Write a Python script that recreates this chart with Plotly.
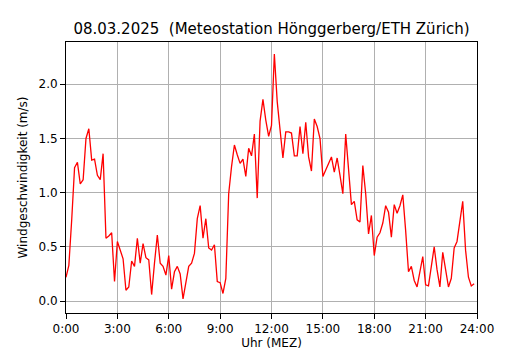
import plotly.graph_objects as go

# Wind speed (m/s), 10-minute values from 0:00 to 23:50
wind = [
    0.22, 0.33, 0.75, 1.23, 1.28, 1.08, 1.12, 1.50, 1.59, 1.30,
    1.31, 1.16, 1.12, 1.36, 0.58, 0.60, 0.63, 0.18, 0.55, 0.47,
    0.39, 0.10, 0.13, 0.37, 0.32, 0.58, 0.35, 0.53, 0.40, 0.38,
    0.06, 0.35, 0.61, 0.35, 0.32, 0.24, 0.42, 0.11, 0.27, 0.32,
    0.25, 0.02, 0.19, 0.32, 0.35, 0.44, 0.76, 0.88, 0.58, 0.76,
    0.49, 0.47, 0.52, 0.18, 0.17, 0.07, 0.21, 0.99, 1.24, 1.44,
    1.35, 1.27, 1.31, 1.15, 1.41, 1.34, 1.54, 0.95, 1.66, 1.86,
    1.67, 1.52, 1.62, 2.28, 1.84, 1.58, 1.32, 1.56, 1.56, 1.55,
    1.34, 1.34, 1.61, 1.36, 1.65, 1.33, 1.20, 1.68, 1.61, 1.50,
    1.15, 1.21, 1.27, 1.33, 1.19, 1.32, 1.16, 0.99, 1.54, 1.21,
    0.89, 0.92, 0.75, 0.73, 1.25, 0.99, 0.62, 0.79, 0.42, 0.59,
    0.63, 0.72, 0.88, 0.82, 0.59, 0.89, 0.81, 0.88, 0.98, 0.65,
    0.27, 0.32, 0.19, 0.13, 0.29, 0.41, 0.15, 0.14, 0.32, 0.50,
    0.29, 0.13, 0.45, 0.29, 0.13, 0.21, 0.49, 0.55, 0.72, 0.92,
    0.47, 0.22, 0.14, 0.16,
]
hours = [i / 6 for i in range(len(wind))]

x_tickvals = [0, 3, 6, 9, 12, 15, 18, 21, 24]
x_ticktext = ["0:00", "3:00", "6:00", "9:00", "12:00", "15:00", "18:00", "21:00", "24:00"]
y_tickvals = [0.0, 0.5, 1.0, 1.5, 2.0]
y_ticktext = ["0.0", "0.5", "1.0", "1.5", "2.0"]

title_text = "08.03.2025  (Meteostation Hönggerberg/ETH Zürich)"
x_title = "Uhr (MEZ)"
y_title = "Windgeschwindigkeit (m/s)"

fig = go.Figure()
fig.add_trace(go.Scatter(x=hours, y=wind, mode="lines",
                         line=dict(color="#ff0000", width=1.3), showlegend=False))

axis_common = dict(
    showline=True, linecolor="black", linewidth=1, mirror=True,
    showgrid=True, gridcolor="#b0b0b0", gridwidth=0.8,
    ticks="outside", ticklen=5, tickcolor="black", tickwidth=1,
    zeroline=False, automargin=False,
    tickfont=dict(family="DejaVu Sans", size=12, color="black"),
)

fig.update_layout(
    width=530, height=350,
    margin=dict(l=66, r=53, t=42, b=37),
    paper_bgcolor="white", plot_bgcolor="white",
    font=dict(family="DejaVu Sans", color="black"),
    title=dict(text=title_text, xref="paper", x=0.5, xanchor="center",
               y=0.917, yanchor="middle",
               font=dict(family="DejaVu Sans", size=15, color="black")),
    xaxis=dict(range=[0, 24], tickvals=x_tickvals, ticktext=x_ticktext,
               title=dict(text=x_title, standoff=4,
                          font=dict(family="DejaVu Sans", size=12)),
               **axis_common),
    yaxis=dict(range=[-0.11, 2.39], tickvals=y_tickvals, ticktext=y_ticktext,
               title=dict(text=y_title, standoff=8,
                          font=dict(family="DejaVu Sans", size=12)),
               **axis_common),
)

fig.write_html("out.html", config={"displayModeBar": False},
               post_script="document.body.style.margin='0';")
